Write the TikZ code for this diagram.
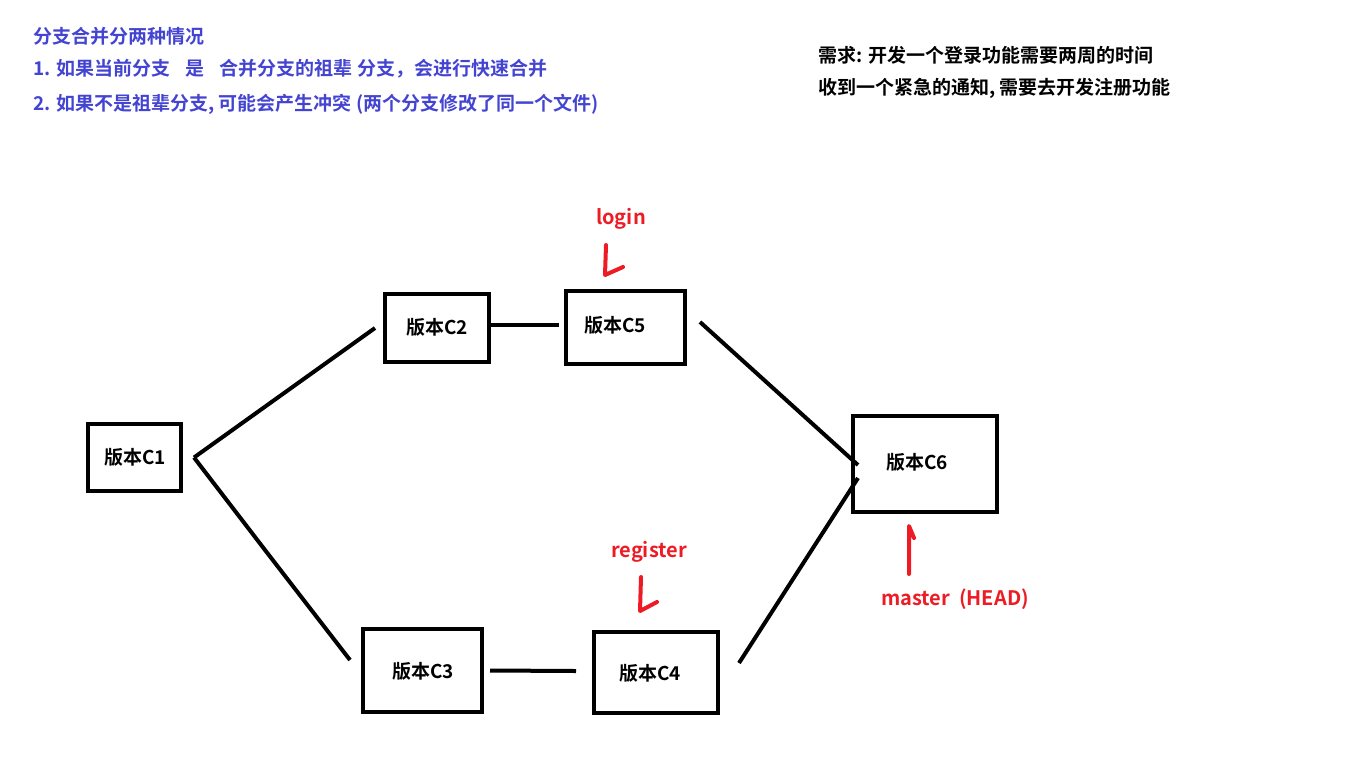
\documentclass[tikz,border=0pt]{standalone}
\usepackage{fontspec}
\setmainfont{Noto Sans CJK SC}[BoldFont={Noto Sans CJK SC Bold}]
\definecolor{noteblue}{RGB}{68,68,210}
\definecolor{markred}{RGB}{237,28,36}
\begin{document}
\begin{tikzpicture}[x=1pt,y=-1pt,
  commit/.style={draw=black,line width=4pt,inner sep=0pt},
  label/.style={font=\bfseries\fontsize{19}{22}\selectfont},
  link/.style={draw=black,line width=4pt},
  pointer/.style={draw=markred,line width=4pt,line cap=round,line join=round},
  tag/.style={text=markred,font=\bfseries\fontsize{20}{24}\selectfont},
  note/.style={anchor=west,inner sep=0pt,font=\bfseries\fontsize{19}{22}\selectfont}]
\useasboundingbox (0,0) rectangle (1370,780);

% notes
\node[note,text=noteblue] (n1) at (33,36) {分支合并分两种情况};
\node[note,text=noteblue] (n2) at (33,69) {1. 如果当前分支\hspace{0.8em}是\hspace{0.8em}合并分支的祖辈 分支，会进行快速合并};
\node[note,text=noteblue] (n3) at (33,104) {2. 如果不是祖辈分支, 可能会产生冲突 (两个分支修改了同一个文件)};
\node[note,text=black] (n4) at (818,55) {需求: 开发一个登录功能需要两周的时间};
\node[note,text=black] (n5) at (818,88) {收到一个紧急的通知, 需要去开发注册功能};

% commit boxes
\node[commit,minimum width=93pt,minimum height=67pt] (c1) at (134.5,457.5) {};
\node[label] (l1) at (135,457) {版本C1};
\node[commit,minimum width=104pt,minimum height=68pt] (c2) at (437,328) {};
\node[label] (l2) at (437,327) {版本C2};
\node[commit,minimum width=119pt,minimum height=73pt] (c5) at (625.5,327.5) {};
\node[label] (l5) at (615,325) {版本C5};
\node[commit,minimum width=144pt,minimum height=96pt] (c6) at (925,464) {};
\node[label] (l6) at (917,462) {版本C6};
\node[commit,minimum width=119pt,minimum height=83pt] (c3) at (422.5,670.5) {};
\node[label] (l3) at (423,671) {版本C3};
\node[commit,minimum width=124pt,minimum height=81pt] (c4) at (656,672.5) {};
\node[label] (l4) at (650,673) {版本C4};

% connectors (shifts are canvas shifts: positive yshift points up)
\draw[link] ([xshift=11pt]c1.east) -- ([xshift=-8pt]c2.west);
\draw[link] ([xshift=11pt]c1.east) -- (265,550) -- ([xshift=-11pt,yshift=10.5pt]c3.west);
\draw[link] ([yshift=3pt]c2.east) -- ([xshift=-5pt,yshift=2.5pt]c5.west);
\draw[link] ([xshift=6pt]c3.east) -- ([xshift=-16pt,yshift=1.5pt]c4.west);
\draw[link] ([xshift=13pt,yshift=5.5pt]c5.east) -- ([xshift=7pt,yshift=-1pt]c6.west);
\draw[link] ([xshift=19pt,yshift=9.5pt]c4.east) -- ([xshift=7pt,yshift=-14pt]c6.west);

% branch pointers
\node[tag] (login) at (621,219) {login};
\draw[pointer] (606,245) -- (605,275) -- (623,267);
\node[tag] (register) at (649,552) {register};
\draw[pointer] (641,577) -- (640,611) -- (657,602);
\node[tag] (master) at (955,599) {master\ \ (HEAD)};
\draw[pointer] (909,574) -- (909,526) -- (914,538);
\end{tikzpicture}
\end{document}
